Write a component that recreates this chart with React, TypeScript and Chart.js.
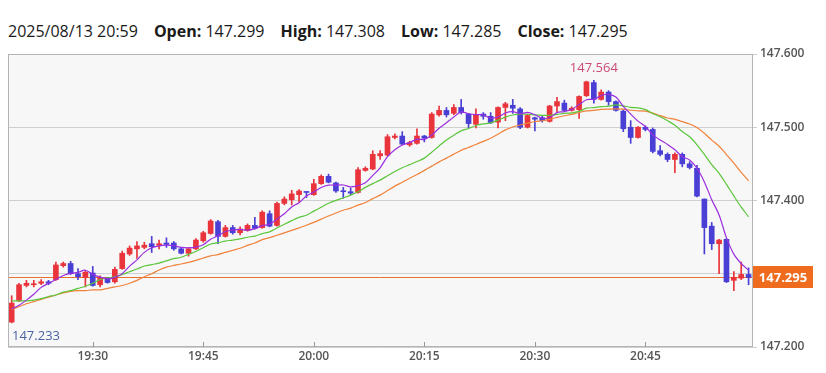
import React, { useEffect, useRef } from "react";
import { Chart, registerables } from "chart.js";

Chart.register(...registerables);

// ---- data (1-minute candles, 19:19 .. 20:59) ----
const headerDate = "2025/08/13 20:59";

const opens = [
  147.234, 147.263, 147.284, 147.285, 147.287, 147.289, 147.292, 147.311, 147.314, 147.300,
  147.295, 147.301, 147.285, 147.294, 147.289, 147.307, 147.327, 147.334, 147.336, 147.341,
  147.339, 147.342, 147.342, 147.334, 147.328, 147.334, 147.345, 147.355, 147.371, 147.351,
  147.363, 147.356, 147.359, 147.366, 147.363, 147.382, 147.366, 147.396, 147.401, 147.408,
  147.412, 147.408, 147.423, 147.433, 147.424, 147.413, 147.412, 147.411, 147.441, 147.443,
  147.461, 147.462, 147.486, 147.488, 147.476, 147.478, 147.488, 147.486, 147.517, 147.523,
  147.519, 147.527, 147.518, 147.504, 147.518, 147.515, 147.507, 147.527, 147.530, 147.525,
  147.500, 147.513, 147.513, 147.508, 147.529, 147.533, 147.523, 147.524, 147.543, 147.561,
  147.538, 147.548, 147.535, 147.522, 147.500, 147.486, 147.500, 147.497, 147.468, 147.463,
  147.456, 147.463, 147.450, 147.444, 147.402, 147.365, 147.341, 147.347, 147.291, 147.294,
  147.299,
];
const highs = [
  147.270, 147.287, 147.291, 147.291, 147.292, 147.291, 147.316, 147.316, 147.317, 147.307,
  147.304, 147.310, 147.297, 147.295, 147.309, 147.331, 147.338, 147.344, 147.343, 147.351,
  147.346, 147.349, 147.344, 147.335, 147.336, 147.348, 147.358, 147.374, 147.373, 147.366,
  147.366, 147.364, 147.368, 147.377, 147.386, 147.386, 147.398, 147.405, 147.414, 147.415,
  147.412, 147.429, 147.435, 147.436, 147.425, 147.418, 147.417, 147.445, 147.446, 147.468,
  147.468, 147.490, 147.491, 147.494, 147.481, 147.498, 147.489, 147.520, 147.529, 147.527,
  147.531, 147.538, 147.519, 147.525, 147.520, 147.520, 147.528, 147.534, 147.538, 147.527,
  147.518, 147.514, 147.515, 147.530, 147.541, 147.537, 147.528, 147.543, 147.563, 147.564,
  147.551, 147.550, 147.536, 147.524, 147.509, 147.501, 147.502, 147.499, 147.475, 147.465,
  147.465, 147.465, 147.453, 147.448, 147.402, 147.370, 147.347, 147.348, 147.303, 147.316,
  147.308,
];
const lows = [
  147.233, 147.262, 147.282, 147.282, 147.285, 147.285, 147.291, 147.309, 147.299, 147.292,
  147.282, 147.283, 147.282, 147.287, 147.287, 147.306, 147.325, 147.321, 147.334, 147.329,
  147.334, 147.336, 147.332, 147.327, 147.324, 147.333, 147.343, 147.354, 147.341, 147.350,
  147.354, 147.353, 147.358, 147.361, 147.362, 147.364, 147.365, 147.394, 147.394, 147.398,
  147.404, 147.407, 147.422, 147.424, 147.411, 147.403, 147.408, 147.410, 147.440, 147.442,
  147.456, 147.461, 147.484, 147.476, 147.474, 147.477, 147.480, 147.485, 147.515, 147.514,
  147.517, 147.518, 147.499, 147.499, 147.511, 147.505, 147.499, 147.509, 147.519, 147.498,
  147.499, 147.495, 147.507, 147.507, 147.520, 147.522, 147.522, 147.512, 147.542, 147.533,
  147.537, 147.530, 147.522, 147.494, 147.478, 147.485, 147.495, 147.465, 147.461, 147.453,
  147.438, 147.446, 147.443, 147.405, 147.327, 147.333, 147.300, 147.288, 147.277, 147.292,
  147.285,
];
const closes = [
  147.260, 147.285, 147.287, 147.286, 147.289, 147.287, 147.312, 147.314, 147.300, 147.296,
  147.302, 147.284, 147.295, 147.288, 147.306, 147.328, 147.335, 147.338, 147.339, 147.337,
  147.341, 147.340, 147.334, 147.328, 147.334, 147.346, 147.356, 147.372, 147.351, 147.363,
  147.356, 147.361, 147.366, 147.362, 147.384, 147.365, 147.396, 147.402, 147.409, 147.413,
  147.411, 147.423, 147.433, 147.425, 147.413, 147.412, 147.410, 147.442, 147.444, 147.463,
  147.464, 147.487, 147.488, 147.477, 147.479, 147.488, 147.485, 147.518, 147.523, 147.517,
  147.527, 147.520, 147.505, 147.517, 147.515, 147.506, 147.527, 147.532, 147.526, 147.500,
  147.516, 147.511, 147.509, 147.529, 147.535, 147.523, 147.526, 147.542, 147.562, 147.538,
  147.548, 147.535, 147.523, 147.498, 147.486, 147.500, 147.497, 147.467, 147.463, 147.456,
  147.463, 147.450, 147.445, 147.406, 147.363, 147.341, 147.346, 147.289, 147.295, 147.299,
  147.295,
];

const ma5Head = [147.252, 147.257, 147.264, 147.272];
const ma13Head = [
  147.263, 147.263, 147.263, 147.264, 147.266, 147.269, 147.271, 147.275, 147.277, 147.280,
  147.283, 147.287,
];
const ma21Head = [
  147.251, 147.255, 147.259, 147.262, 147.265, 147.268, 147.271, 147.274, 147.276, 147.277,
  147.277, 147.278, 147.278, 147.280, 147.282, 147.284, 147.287, 147.291, 147.296, 147.300,
];

const xTickIndex = [11, 26, 41, 56, 71, 86];
const xTickLabels = ["19:30", "19:45", "20:00", "20:15", "20:30", "20:45"];
const yTicks = [147.2, 147.3, 147.4, 147.5, 147.6];

const UP = "#e8343a";
const DOWN = "#4a3fd4";

function sma(values: number[], n: number, head: number[]) {
  return values.map((_, i) => {
    if (i < n - 1) return head[i];
    let s = 0;
    for (let k = i - n + 1; k <= i; k++) s += values[k];
    return s / n;
  });
}

const FONT = "'Open Sans', 'Noto Sans', sans-serif";

export default function App() {
  const ref = useRef<HTMLCanvasElement | null>(null);

  useEffect(() => {
    if (!ref.current) return;
    const n = closes.length;
    const colors = closes.map((c, i) => (c >= opens[i] ? UP : DOWN));
    const lastClose = closes[n - 1];

    let hiIdx = 0;
    let loIdx = 0;
    highs.forEach((h, i) => { if (h > highs[hiIdx]) hiIdx = i; });
    lows.forEach((l, i) => { if (l < lows[loIdx]) loIdx = i; });

    const ma5 = sma(closes, 5, ma5Head);
    const ma13 = sma(closes, 13, ma13Head);
    const ma21 = sma(closes, 21, ma21Head);

    const decor = {
      id: "decor",
      beforeDraw(chart: any) {
        const { ctx, chartArea: a } = chart;
        ctx.save();
        ctx.fillStyle = "#f7f7f7";
        ctx.fillRect(a.left, a.top, a.right - a.left, a.bottom - a.top);
        ctx.restore();
      },
      beforeDatasetsDraw(chart: any) {
        const { ctx, chartArea: a, scales } = chart;
        const y = Math.round(scales.y.getPixelForValue(lastClose)) + 0.5;
        ctx.save();
        ctx.strokeStyle = "#e8702c";
        ctx.lineWidth = 1;
        ctx.beginPath();
        ctx.moveTo(a.left, y);
        ctx.lineTo(a.right, y);
        ctx.stroke();
        ctx.restore();
      },
      afterDraw(chart: any) {
        const { ctx, chartArea: a, scales } = chart;
        ctx.save();
        // border
        ctx.strokeStyle = "#b4b4b4";
        ctx.lineWidth = 1;
        ctx.strokeRect(a.left + 0.5, a.top + 0.5, a.right - a.left - 1, a.bottom - a.top - 1);
        // x ticks inside
        ctx.strokeStyle = "#999";
        xTickIndex.forEach((v) => {
          const x = Math.round(scales.x.getPixelForValue(v)) + 0.5;
          ctx.beginPath();
          ctx.moveTo(x, a.bottom - 5);
          ctx.lineTo(x, a.bottom);
          ctx.stroke();
        });
        // price box
        const py = scales.y.getPixelForValue(lastClose);
        ctx.fillStyle = "#ef6c1e";
        ctx.fillRect(a.right, Math.round(py) - 11, 60, 22);
        ctx.fillStyle = "#ffffff";
        ctx.font = `bold 13px ${FONT}`;
        ctx.textAlign = "center";
        ctx.textBaseline = "middle";
        ctx.fillText(lastClose.toFixed(3), a.right + 30, Math.round(py) + 1);
        // high label
        ctx.font = `13px ${FONT}`;
        ctx.fillStyle = "#cc4a74";
        const hx = scales.x.getPixelForValue(hiIdx);
        const hy = scales.y.getPixelForValue(highs[hiIdx]) - 12;
        ctx.fillText(highs[hiIdx].toFixed(3), hx, hy);
        // low label
        ctx.fillStyle = "#4a64a0";
        const lt = lows[loIdx].toFixed(3);
        const w = ctx.measureText(lt).width;
        const lx = Math.max(a.left + 4, scales.x.getPixelForValue(loIdx) - w / 2);
        const ly = scales.y.getPixelForValue(lows[loIdx]) + 13;
        ctx.textAlign = "left";
        ctx.fillText(lt, lx, ly);
        ctx.restore();
      },
    };

    const chart = new Chart(ref.current, {
      type: "bar",
      data: {
        datasets: [
          {
            type: "line",
            data: ma5.map((v, i) => ({ x: i, y: v })),
            borderColor: "#9a2ee0",
            borderWidth: 1.2,
            pointRadius: 0,
            tension: 0.3,
            order: 0,
          } as any,
          {
            type: "line",
            data: ma13.map((v, i) => ({ x: i, y: v })),
            borderColor: "#5cc63c",
            borderWidth: 1.2,
            pointRadius: 0,
            tension: 0.3,
            order: 0,
          } as any,
          {
            type: "line",
            data: ma21.map((v, i) => ({ x: i, y: v })),
            borderColor: "#f0823c",
            borderWidth: 1.2,
            pointRadius: 0,
            tension: 0.3,
            order: 0,
          } as any,
          {
            type: "bar",
            data: lows.map((l, i) => ({ x: i, y: [l, highs[i]] })),
            backgroundColor: colors,
            barThickness: 1,
            grouped: false,
            borderWidth: 0,
            order: 2,
          } as any,
          {
            type: "bar",
            data: opens.map((o, i) => ({ x: i, y: [o, closes[i]] })),
            backgroundColor: colors,
            barThickness: 5,
            minBarLength: 1,
            grouped: false,
            borderWidth: 0,
            order: 1,
          } as any,
        ],
      },
      options: {
        responsive: false,
        animation: false,
        events: [],
        layout: { padding: { top: 54, left: 8, right: 0, bottom: 0 } },
        plugins: { legend: { display: false }, tooltip: { enabled: false } },
        scales: {
          x: {
            type: "linear",
            min: -0.5,
            max: 100.6,
            offset: false,
            border: { display: false },
            grid: { display: false, drawTicks: false, offset: false },
            afterBuildTicks: (s: any) => {
              s.ticks = xTickIndex.map((v) => ({ value: v }));
            },
            afterFit: (s: any) => {
              s.height = 26;
            },
            ticks: {
              autoSkip: false,
              maxRotation: 0,
              padding: 2,
              color: "#555",
              font: { family: FONT, size: 12, weight: "600" },
              callback: (v: any) => {
                const k = xTickIndex.indexOf(Number(v));
                return k >= 0 ? xTickLabels[k] : "";
              },
            },
          },
          y: {
            type: "linear",
            position: "right",
            min: 147.2,
            max: 147.6,
            border: { display: false },
            grid: { color: "#cfcfcf", tickLength: 4, drawTicks: true },
            afterBuildTicks: (s: any) => {
              s.ticks = yTicks.map((v) => ({ value: v }));
            },
            afterFit: (s: any) => {
              s.width = 73;
            },
            ticks: {
              padding: 3,
              color: "#555",
              font: { family: FONT, size: 12, weight: "600" },
              callback: (v: any) =>
                Math.abs(Number(v) - 147.3) < 1e-6 ? "" : Number(v).toFixed(3),
            },
          },
        },
      } as any,
      plugins: [decor],
    });
    return () => chart.destroy();
  }, []);

  const n = closes.length;
  const hdr: [string, number][] = [
    ["Open:", opens[n - 1]],
    ["High:", highs[n - 1]],
    ["Low:", lows[n - 1]],
    ["Close:", closes[n - 1]],
  ];

  return (
    <div style={{ position: "absolute", left: 0, top: 0, width: 826, height: 373, background: "#fff", overflow: "hidden" }}>
      <div
        style={{
          position: "absolute",
          left: 8,
          top: 20,
          fontFamily: FONT,
          fontSize: 16,
          lineHeight: "22px",
          color: "#1a1a1a",
          whiteSpace: "nowrap",
        }}
      >
        <span>{headerDate}</span>
        {hdr.map(([k, v]) => (
          <span key={k} style={{ marginLeft: 16 }}>
            <b>{k}</b> {v.toFixed(3)}
          </span>
        ))}
      </div>
      <canvas ref={ref} width={826} height={373} style={{ position: "absolute", left: 0, top: 0 }} />
    </div>
  );
}
